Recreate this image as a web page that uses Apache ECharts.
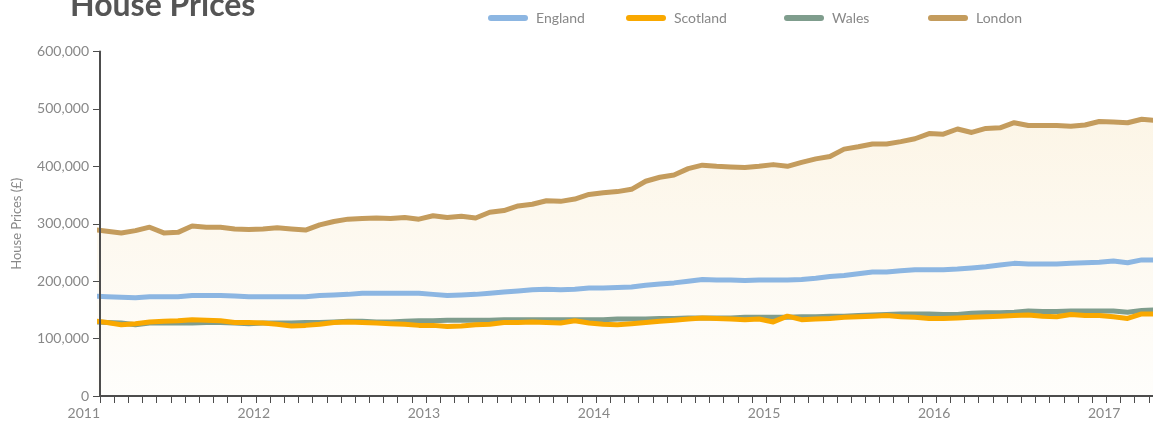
<!DOCTYPE html>
<html>
<head>
<meta charset="utf-8">
<title>House Prices</title>
<script src="https://cdn.jsdelivr.net/npm/echarts@6/dist/echarts.min.js"></script>
<style>
  html, body { margin: 0; padding: 0; background: #ffffff; }
  #chart { width: 1153px; height: 421px; }
</style>
</head>
<body>
<div id="chart"></div>
<script>
// Monthly average house prices (£), December 2010 to March 2017.
const firstMonth = '2010-12';
const monthCount = 76;

const yearLabels = ['2011', '2012', '2013', '2014', '2015', '2016', '2017'];
const yTicks = [0, 100000, 200000, 300000, 400000, 500000, 600000];

const england = [
  174000,
  173000, 172000, 171000, 173000, 173000, 173000, 175000, 175000, 175000, 174000, 173000, 173000,
  173000, 173000, 173000, 175000, 176000, 177000, 179000, 179000, 179000, 179000, 179000, 177000,
  175000, 176000, 177000, 179000, 181000, 183000, 185000, 186000, 185000, 186000, 188000, 188000,
  189000, 190000, 193000, 195000, 197000, 200000, 203000, 202000, 202000, 201000, 202000, 202000,
  202000, 203000, 205000, 208000, 210000, 213000, 216000, 216000, 218000, 220000, 220000, 220000,
  221000, 223000, 225000, 228000, 231000, 230000, 230000, 230000, 231000, 232000, 233000, 235000,
  232000, 237000, 237000
];

const scotland = [
  131000,
  128000, 124000, 126000, 129000, 130000, 131000, 133000, 132000, 131000, 128000, 128000, 127000,
  125000, 122000, 123000, 125000, 128000, 129000, 128000, 127000, 126000, 125000, 123000, 123000,
  121000, 122000, 124000, 125000, 128000, 128000, 129000, 128000, 127000, 131000, 127000, 125000,
  124000, 126000, 128000, 130000, 132000, 134000, 136000, 135000, 134000, 133000, 134000, 129000,
  139000, 133000, 134000, 135000, 137000, 138000, 139000, 140000, 138000, 137000, 135000, 135000,
  136000, 137000, 138000, 139000, 140000, 141000, 139000, 138000, 142000, 140000, 140000, 138000,
  135000, 143000, 143000
];

const wales = [
  129000,
  128000, 127000, 124000, 127000, 127000, 127000, 127000, 128000, 128000, 127000, 126000, 127000,
  127000, 127000, 128000, 128000, 129000, 130000, 130000, 129000, 129000, 130000, 131000, 131000,
  132000, 132000, 132000, 132000, 133000, 133000, 133000, 133000, 133000, 133000, 133000, 133000,
  134000, 134000, 134000, 135000, 135000, 136000, 136000, 136000, 136000, 137000, 137000, 137000,
  137000, 138000, 138000, 139000, 139000, 140000, 141000, 142000, 143000, 143000, 143000, 142000,
  142000, 144000, 145000, 145000, 146000, 148000, 147000, 147000, 148000, 148000, 148000, 148000,
  146000, 149000, 150000
];

const london = [
  290000,
  287000, 284000, 288000, 294000, 284000, 285000, 296000, 294000, 294000, 291000, 290000, 291000,
  293000, 291000, 289000, 298000, 304000, 308000, 309000, 310000, 309000, 311000, 308000, 314000,
  311000, 313000, 310000, 320000, 323000, 331000, 334000, 340000, 339000, 343000, 351000, 354000,
  356000, 360000, 374000, 381000, 385000, 396000, 402000, 400000, 399000, 398000, 400000, 403000,
  400000, 407000, 413000, 417000, 430000, 434000, 439000, 439000, 443000, 448000, 457000, 456000,
  465000, 459000, 466000, 467000, 476000, 471000, 471000, 471000, 470000, 472000, 478000, 477000,
  476000, 482000, 480000
];

// Month labels 'YYYY-MM'
const months = [];
(function () {
  let y = +firstMonth.slice(0, 4), m = +firstMonth.slice(5, 7);
  for (let k = 0; k < monthCount; k++) {
    months.push(y + '-' + String(m).padStart(2, '0'));
    m++; if (m > 12) { m = 1; y++; }
  }
})();

const baseYear = +yearLabels[0];
// Position on the month axis: months since Jan of the first labelled year, sampled mid-month
function monthPos(label) {
  const y = +label.slice(0, 4), m = +label.slice(5, 7);
  return (y - baseYear) * 12 + (m - 1) + 0.5;
}
function toPoints(values) {
  return months.map((mo, k) => [monthPos(mo), values[k]]);
}
function withCommas(v) {
  return String(v).replace(/\B(?=(\d{3})+(?!\d))/g, ',');
}

const colors = {
  England: '#8cb6e2',
  Scotland: '#f9a800',
  Wales: '#7f9d8d',
  London: '#c49c5d'
};

const FONT = 'Lato, "Open Sans", sans-serif';
const capsule = 'path://M3,0 L37,0 A3,3 0 0 1 37,6 L3,6 A3,3 0 0 1 3,0 Z';

function legendAt(name, left) {
  return {
    data: [name],
    left: left,
    top: 11,
    padding: 0,
    icon: capsule,
    itemWidth: 40,
    itemHeight: 6,
    selectedMode: false,
    textStyle: { color: '#888888', fontSize: 14, fontFamily: FONT, padding: [0, 0, 0, 3] }
  };
}

function lineSeries(name, values, z) {
  return {
    name: name,
    type: 'line',
    data: toPoints(values),
    showSymbol: false,
    symbol: 'none',
    z: z,
    itemStyle: { color: colors[name] },
    lineStyle: { color: colors[name], width: 5, cap: 'round', join: 'round' },
    emphasis: { disabled: true }
  };
}

const chart = echarts.init(document.getElementById('chart'), null, { renderer: 'canvas' });

const option = {
  animation: false,
  backgroundColor: '#ffffff',
  title: {
    text: 'House Prices',
    left: 70,
    top: -10,
    padding: 0,
    textStyle: { color: '#555555', fontSize: 32, fontWeight: 'bold', fontFamily: FONT }
  },
  legend: [
    legendAt('England', 488),
    legendAt('Scotland', 626),
    legendAt('Wales', 784),
    legendAt('London', 928)
  ],
  // The month axis runs a little past the right edge of the canvas
  grid: {
    left: 100, width: 1063, top: 51.5, height: 344.5,
    outerBoundsMode: 'none', containLabel: false
  },
  xAxis: {
    type: 'value',
    z: 10,
    min: 0,
    max: (yearLabels.length - 1) * 12 + 3,
    interval: 1,
    splitLine: { show: false },
    axisLine: { show: true, lineStyle: { color: '#4d4d4d', width: 2 } },
    axisTick: { show: true, length: 7, lineStyle: { color: '#4d4d4d', width: 1 } },
    axisLabel: {
      color: '#888888',
      fontSize: 14,
      fontFamily: FONT,
      align: 'right',
      margin: 10,
      showMaxLabel: false,
      formatter: function (v) {
        if (v % 12 !== 0) return '';
        const label = yearLabels[v / 12];
        return label === undefined ? '' : label;
      }
    }
  },
  yAxis: {
    type: 'value',
    z: 10,
    min: yTicks[0],
    max: yTicks[yTicks.length - 1],
    interval: yTicks[1] - yTicks[0],
    name: 'House Prices (£)',
    nameLocation: 'middle',
    nameGap: 77,
    nameTextStyle: { color: '#888888', fontSize: 13, fontFamily: FONT },
    splitLine: { show: false },
    axisLine: { show: true, lineStyle: { color: '#4d4d4d', width: 2 } },
    axisTick: { show: true, length: 7, lineStyle: { color: '#4d4d4d', width: 1 } },
    axisLabel: {
      color: '#888888',
      fontSize: 14,
      fontFamily: FONT,
      margin: 11,
      formatter: withCommas
    }
  },
  series: [
    Object.assign(lineSeries('London', london, 2), {
      areaStyle: {
        origin: 'start',
        color: new echarts.graphic.LinearGradient(0, 0, 0, 1, [
          { offset: 0, color: '#fbf1dc' },
          { offset: 1, color: '#fefdfa' }
        ])
      }
    }),
    lineSeries('England', england, 3),
    lineSeries('Wales', wales, 4),
    lineSeries('Scotland', scotland, 5)
  ]
};

chart.setOption(option);
</script>
</body>
</html>
